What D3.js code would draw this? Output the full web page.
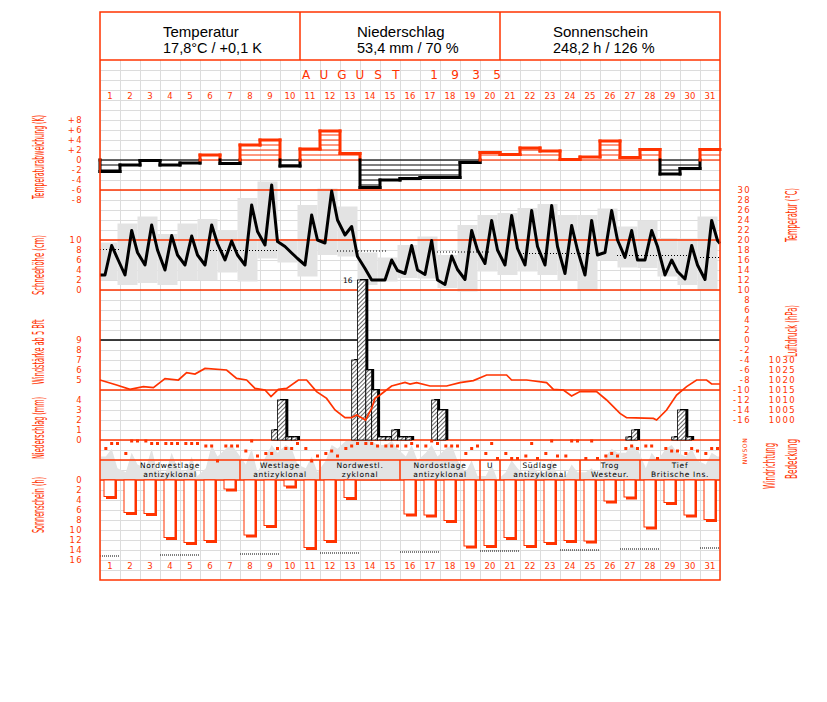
<!DOCTYPE html>
<html>
<head>
<meta charset="utf-8">
<script src="https://cdn.jsdelivr.net/npm/d3@7"></script>
<style>
body { margin: 0; background: #fff; }
text { font-family: "DejaVu Sans", sans-serif; }
</style>
</head>
<body>
<svg id="chart" width="827" height="702"></svg>
<script>
const RED = "#ff3300";

// ---- data ----
const days = d3.range(1, 32);

// daily mean temperature deviation (K)
const tempDev = [-2.3, -1.0, -0.1, -1.0, -0.6, 1.0, -0.7, 3.0, 4.0, -1.2, 2.2, 5.8, 1.3, -5.5, -4.0,
  -3.7, -3.5, -3.5, -0.5, 1.5, 1.1, 2.4, 1.8, 0.1, 0.6, 3.8, 0.5, 2.1, -2.8, -1.7, 2.1];

// temperature at the terms (°C): morning, 14h, 21h
const tempMorning = [13, 13, 15, 14, 15, 15, 16, 15, 19, 18.7, 15, 19.4, 21, 14.3, 12,
  13.3, 13.1, 11.1, 12.1, 15.3, 15, 15, 15, 13.3, 13, 17.5, 16.5, 16, 13, 12.2, 12.1];
const tempNoon = [18.9, 21.9, 23, 20.9, 20.8, 23, 19.8, 27, 31, 17.4, 25, 29.8, 22.7, 12, 16,
  18.9, 19.9, 16.8, 21.9, 23.9, 24.9, 25.9, 26.9, 22.9, 23.9, 25.9, 21.9, 21.9, 16, 18.9, 23.9];
const tempEvening = [16.3, 17.5, 18, 17, 17, 19.3, 17, 21.7, 19.7, 16.3, 20, 24, 16.7, 12, 13.9,
  14, 12, 14.1, 18, 18, 18.3, 18.7, 18.7, 18, 17, 20, 16, 18.7, 13.7, 15, 19.9];
const tempFirst = 13, tempLast = 19.3;

// daily extremes (grey boxes, °C)
const tempHigh = [19.5, 23.3, 24.7, 21.2, 23.3, 24.2, 22, 28.4, 31.7, 20.2, 27, 30.3, 26.7, 17.5, 16.5,
  19, 20.7, 17, 23, 25, 25.4, 26.4, 27.2, 25, 25, 26.3, 22.7, 23.9, 20.4, 20.3, 24.7];
const tempLow = [12, 11, 11.4, 11, 12, 12, 13.5, 11.7, 16.3, 15.5, 12.7, 17, 16.7, 11, 11.7,
  12.4, 12.3, 10.4, 9.7, 13.7, 13, 13.7, 13, 12, 10, 16, 14.5, 14.4, 12.7, 11, 10];

// normal temperature (dotted), [from day, to day, °C]
const tempNormal = [[0, 1, 18.1], [5.5, 8.85, 17.9], [11.85, 14.35, 17.8], [16.85, 19.5, 17.6],
  [21, 24.5, 17.3], [25.85, 29.35, 16.9], [30, 31, 16.5]];

// precipitation per term interval: [day, from hour, to hour, mm]
const precip = [[9, 14, 21, 1.0], [9, 21, 31, 4.0], [10, 7, 14, 0.3], [10, 14, 21, 0.3],
  [13, 14, 21, 8], [13, 21, 31, 16], [14, 7, 14, 7], [14, 14, 21, 5], [14, 21, 31, 0.3],
  [15, 7, 14, 0.3], [15, 14, 21, 1], [15, 21, 31, 0.3], [16, 7, 14, 0.3],
  [17, 14, 21, 4], [17, 21, 31, 3], [27, 7, 14, 0.3], [27, 14, 21, 1],
  [29, 14, 21, 0.3], [29, 21, 31, 3], [30, 7, 14, 0.3]];

// air pressure (hPa): [time in days, value]
const pressure = [[0, 1020], [0.83, 1017.5], [1.5, 1015.3], [2.17, 1016.7], [2.67, 1016.2], [3.25, 1020.7],
  [3.92, 1020], [4.33, 1023.7], [4.75, 1023], [5.25, 1025.8], [6.33, 1025], [6.83, 1020.8], [7.33, 1020],
  [7.75, 1015.8], [8.25, 1015], [8.55, 1011.7], [8.92, 1015.3], [9.33, 1015.8], [9.92, 1020], [10.33, 1020],
  [10.83, 1014.2], [11.33, 1010.8], [11.75, 1005], [12.25, 1001.2], [12.58, 1001.2], [12.83, 1002.5],
  [13.28, 1000], [13.58, 1005.8], [13.75, 1010.8], [14, 1012.5], [14.58, 1017], [15.25, 1018.8], [15.5, 1018],
  [15.83, 1018.7], [16.5, 1017], [17.33, 1017], [18, 1018.7], [18.67, 1019.7], [19.33, 1022.5], [20.33, 1022.5],
  [20.58, 1020], [21.33, 1020], [22.33, 1018.7], [22.67, 1015.3], [23.17, 1015], [23.58, 1012], [24, 1014.2],
  [24.83, 1014.2], [25.33, 1010], [26, 1003.3], [26.33, 1001.2], [27.67, 1000.8], [27.83, 1000], [28.33, 1005],
  [28.83, 1012.5], [29.33, 1016.7], [29.83, 1020], [30.33, 1020], [30.58, 1018], [31, 1018]];

// wind direction (degrees) at 7h, 14h, 21h
const windDir = [135, 45, 45, 225, 0, 0, 0, 45, 45, 45, 45, 45, 45, 45, 45, 90, 90, 360, 90, 90, 90,
  180, 0, 270, 225, 225, 135, 135, 135, 45, 135, 360, 270, 225, 180, 270, 135, 90, 45, 45, 45, 90,
  90, 90, 90, 90, 45, 90, 90, 0, 45, 90, 90, 90, 225, 135, 90, 225, 45, 315, 225, 315, 315,
  270, 45, 315, 225, 0, 270, 270, 0, 0, 315, 0, 315, 270, 225, 270, 135, 90, 135, 90, 90, 315,
  135, 180, 180, 225, 135, 180, 225, 135, 135];

// cloud cover (tenths) at 7h, 14h, 21h
const cloud = [6, 8, 3, 2, 7, 4, 3, 8, 2, 2, 7, 3, 2, 6, 1, 3, 9, 6, 8, 9, 7, 4, 8, 2, 6, 9, 7,
  9, 8, 4, 3, 6, 2, 5, 9, 8, 10, 10, 10, 10, 10, 9, 9, 10, 8, 6, 9, 5, 7, 9, 6, 8, 9, 5, 2, 5, 1,
  1, 4, 0, 2, 5, 3, 1, 4, 2, 2, 5, 1, 1, 4, 2, 2, 3, 1, 6, 8, 7, 7, 9, 8, 3, 7, 5, 8, 9, 7, 6, 8, 5,
  4, 7, 6];

// Großwetterlagen
const weatherFrom = [1, 8, 12, 16, 20, 21, 25, 28];
const weatherTo = [7, 11, 15, 19, 20, 24, 27, 31];
const weatherLine1 = ["Nordwestlage", "Westlage", "Nordwestl.", "Nordostlage", "U", "Südlage", "Trog", "Tief"];
const weatherLine2 = ["antizyklonal", "antizyklonal", "zyklonal", "antizyklonal", "", "antizyklonal", "Westeur.", "Britische Ins."];

// sunshine duration (h)
const sunshine = [3.3, 6.5, 6.7, 11.5, 12.5, 12.1, 1.8, 11, 9.1, 1.2, 13.5, 12.1, 3.5, 0, 0,
  6.8, 7, 8.1, 13.2, 13.1, 11.5, 13.1, 12.5, 12.1, 12.2, 4.2, 3.4, 9.4, 4.5, 7, 7.9];
const sunMaxDays = [1, 4, 5, 8, 9, 12, 13, 16, 17, 20, 21, 24, 25, 27, 28, 31];
const sunMaxHours = [15.2, 15.0, 15.0, 14.8, 14.8, 14.6, 14.6, 14.4, 14.4, 14.2, 14.2, 14.0, 14.0, 13.8, 13.8, 13.6];

const devTicks = [8, 6, 4, 2, 0, -2, -4, -6, -8];
const snowTicks = [0, 2, 4, 6, 8, 10];
const windTicks = [5, 6, 7, 8, 9];
const precipTicks = [0, 1, 2, 3, 4];
const sunTicks = [0, 2, 4, 6, 8, 10, 12, 14, 16];
const tempTicks = d3.range(-16, 31, 2);
const pressTicks = [1000, 1005, 1010, 1015, 1020, 1025, 1030];

// ---- scales ----
const x = d3.scaleLinear().domain([0, 31]).range([100, 720]);
const tm = (d, h) => d - 1 + h / 24;
const yDev = d3.scaleLinear().domain([-8, 8]).range([200, 120]);
const yTemp = d3.scaleLinear().domain([-16, 30]).range([420, 190]);
const ySnow = d3.scaleLinear().domain([0, 10]).range([290, 240]);
const yWind = d3.scaleLinear().domain([5, 9]).range([380, 340]);
const yPrec = d3.scaleLinear().domain([0, 16]).range([440, 280]);
const yPress = d3.scaleLinear().domain([1000, 1030]).range([420, 360]);
const yDir = d3.scaleLinear().domain([0, 360]).range([441, 461]);
const yCloud = d3.scaleLinear().domain([0, 10]).range([480, 441]);
const ySun = d3.scaleLinear().domain([0, 16]).range([480, 560]);

const svg = d3.select("#chart");
svg.append("rect").attr("width", 827).attr("height", 702).attr("fill", "#fff");

const defs = svg.append("defs");
const pat = defs.append("pattern").attr("id", "hatch").attr("patternUnits", "userSpaceOnUse")
  .attr("width", 3).attr("height", 3).attr("patternTransform", "rotate(45)");
pat.append("rect").attr("width", 3).attr("height", 3).attr("fill", "#fff");
pat.append("line").attr("x1", 0).attr("y1", 0).attr("x2", 0).attr("y2", 3)
  .attr("stroke", "#000").attr("stroke-width", 1.2);

// grid
const grid = svg.append("g").attr("stroke", "#dcdcdc").attr("stroke-width", 1).attr("shape-rendering", "crispEdges");
grid.selectAll("line.v").data(d3.range(0, 32)).join("line").attr("class", "v")
  .attr("x1", d => x(d)).attr("x2", d => x(d)).attr("y1", 60).attr("y2", 580);
grid.selectAll("line.h").data(d3.range(70, 580, 10)).join("line").attr("class", "h")
  .attr("x1", 100).attr("x2", 720).attr("y1", d => d).attr("y2", d => d);

// grey daily extreme boxes (climatological day 21h - 21h)
svg.append("g").attr("fill", "#e3e3e3").selectAll("rect").data(days).join("rect")
  .attr("x", d => Math.max(x(0), x(tm(d, -3))))
  .attr("width", d => x(tm(d, 21)) - Math.max(x(0), x(tm(d, -3))))
  .attr("y", (d, i) => yTemp(tempHigh[i]))
  .attr("height", (d, i) => yTemp(tempLow[i]) - yTemp(tempHigh[i]));

// cloud cover area
const obsHours = [7, 14, 21];
const cloudPts = [[0, cloud[0]]];
days.forEach((d, i) => obsHours.forEach((h, j) => cloudPts.push([tm(d, h), cloud[i * 3 + j]])));
cloudPts.push([31, cloud[cloud.length - 1]]);
svg.append("path").datum(cloudPts).attr("fill", "#e3e3e3")
  .attr("d", d3.area().x(d => x(d[0])).y0(yCloud(0)).y1(d => yCloud(d[1])));

// reference lines
const refLines = [[yTemp(30), RED], [yTemp(20), RED], [yTemp(10), RED],
  [yTemp(0), "#000"], [yTemp(-10), RED], [yPrec(0), RED], [460, RED], [480, RED]];
svg.append("g").selectAll("line").data(refLines).join("line")
  .attr("x1", 100).attr("x2", 720).attr("y1", d => d[0]).attr("y2", d => d[0])
  .attr("stroke", d => d[1]).attr("stroke-width", 1.5);

// temperature deviation
const devG = svg.append("g");
tempDev.forEach((v, i) => {
  const c = v >= 0 ? RED : "#000";
  const s = Math.sign(v);
  devG.append("line").attr("x1", x(i)).attr("x2", x(i + 1)).attr("y1", yDev(0)).attr("y2", yDev(0))
    .attr("stroke", c).attr("stroke-width", 1.2);
  for (let k = 1; k <= Math.floor(Math.abs(v)); k++) {
    devG.append("line").attr("x1", x(i)).attr("x2", x(i + 1)).attr("y1", yDev(s * k)).attr("y2", yDev(s * k))
      .attr("stroke", c).attr("stroke-width", 1);
  }
});
const devSeg = [];
tempDev.forEach((v, i) => {
  const c = v >= 0 ? RED : "#000";
  const p = i > 0 ? tempDev[i - 1] : 0;
  if ((p >= 0) === (v >= 0)) devSeg.push([x(i), yDev(p), x(i), yDev(v), c]);
  else {
    devSeg.push([x(i), yDev(p), x(i), yDev(0), p >= 0 ? RED : "#000"]);
    devSeg.push([x(i), yDev(0), x(i), yDev(v), c]);
  }
  devSeg.push([x(i), yDev(v), x(i + 1), yDev(v), c]);
});
devG.selectAll("line.step").data(devSeg).join("line").attr("class", "step")
  .attr("x1", d => d[0]).attr("y1", d => d[1]).attr("x2", d => d[2]).attr("y2", d => d[3])
  .attr("stroke", d => d[4]).attr("stroke-width", 3).attr("stroke-linecap", "square");

// normal temperature, dotted
svg.append("g").selectAll("line").data(tempNormal).join("line")
  .attr("x1", d => x(d[0])).attr("x2", d => x(d[1])).attr("y1", d => yTemp(d[2])).attr("y2", d => yTemp(d[2]))
  .attr("stroke", "#000").attr("stroke-width", 1).attr("stroke-dasharray", "1,2");

// temperature curve
const tempPts = [[0, tempFirst]];
days.forEach((d, i) => {
  tempPts.push([tm(d, 6), tempMorning[i]]);
  tempPts.push([tm(d, 14), tempNoon[i]]);
  tempPts.push([tm(d, 21), tempEvening[i]]);
});
tempPts.push([31, tempLast]);
svg.append("path").datum(tempPts).attr("fill", "none").attr("stroke", "#000").attr("stroke-width", 3)
  .attr("stroke-linejoin", "round")
  .attr("d", d3.line().x(d => x(d[0])).y(d => yTemp(d[1])));

// precipitation bars
const precG = svg.append("g");
precG.selectAll("rect.shadow").data(precip).join("rect").attr("class", "shadow")
  .attr("x", d => x(tm(d[0], d[1])) + 2.5).attr("width", d => x(tm(d[0], d[2])) - x(tm(d[0], d[1])))
  .attr("y", d => yPrec(d[3]) - 1).attr("height", d => yPrec(0) - yPrec(d[3]) + 1)
  .attr("fill", "#000");
precG.selectAll("rect.bar").data(precip).join("rect").attr("class", "bar")
  .attr("x", d => x(tm(d[0], d[1]))).attr("width", d => x(tm(d[0], d[2])) - x(tm(d[0], d[1])))
  .attr("y", d => yPrec(d[3])).attr("height", d => yPrec(0) - yPrec(d[3]))
  .attr("fill", "url(#hatch)").attr("stroke", "#000").attr("stroke-width", 0.8);
const maxP = precip.reduce((a, b) => (b[3] > a[3] ? b : a));
precG.append("text").attr("x", x(tm(maxP[0], maxP[1])) - 5).attr("y", yPrec(maxP[3]) + 3)
  .attr("text-anchor", "end").attr("font-size", 7.5).text(maxP[3]);

// pressure
svg.append("path").datum(pressure).attr("fill", "none").attr("stroke", RED).attr("stroke-width", 1.7)
  .attr("d", d3.line().x(d => x(d[0])).y(d => yPress(d[1])));

// wind direction squares
const windPts = [];
days.forEach((d, i) => obsHours.forEach((h, j) => windPts.push([tm(d, h), windDir[i * 3 + j]])));
svg.append("g").attr("fill", RED).selectAll("rect").data(windPts).join("rect")
  .attr("x", d => x(d[0]) - 1.5).attr("y", d => yDir(d[1]) - 1.5).attr("width", 3).attr("height", 3);

// weather types
const wG = svg.append("g");
wG.selectAll("line").data(weatherTo.slice(0, -1)).join("line")
  .attr("x1", d => x(d)).attr("x2", d => x(d)).attr("y1", 460).attr("y2", 480)
  .attr("stroke", RED).attr("stroke-width", 1.5);
wG.selectAll("text.l1").data(weatherLine1).join("text").attr("class", "l1")
  .attr("x", (d, i) => (x(weatherFrom[i] - 1) + x(weatherTo[i])) / 2).attr("y", 468)
  .attr("text-anchor", "middle").attr("font-size", 7.5).attr("letter-spacing", 0.7).text(d => d);
wG.selectAll("text.l2").data(weatherLine2).join("text").attr("class", "l2")
  .attr("x", (d, i) => (x(weatherFrom[i] - 1) + x(weatherTo[i])) / 2).attr("y", 477)
  .attr("text-anchor", "middle").attr("font-size", 7.5).attr("letter-spacing", 0.7).text(d => d);

// sunshine bars
const sunG = svg.append("g");
const sunDays = days.filter((d, i) => sunshine[i] > 0);
sunG.selectAll("rect.shadow").data(sunDays).join("rect").attr("class", "shadow")
  .attr("x", d => x(d - 1) + 6).attr("width", 11)
  .attr("y", ySun(0)).attr("height", d => ySun(sunshine[d - 1]) - ySun(0) + 2.5).attr("fill", RED);
sunG.selectAll("rect.bar").data(sunDays).join("rect").attr("class", "bar")
  .attr("x", d => x(d - 1) + 4).attr("width", 11)
  .attr("y", ySun(0)).attr("height", d => ySun(sunshine[d - 1]) - ySun(0))
  .attr("fill", "#fff").attr("stroke", RED).attr("stroke-width", 1);
sunG.selectAll("line").data(sunMaxDays).join("line")
  .attr("x1", d => x(d - 1)).attr("x2", d => x(d))
  .attr("y1", (d, i) => ySun(sunMaxHours[i])).attr("y2", (d, i) => ySun(sunMaxHours[i]))
  .attr("stroke", "#000").attr("stroke-width", 1).attr("stroke-dasharray", "1,1");

// day labels
[99, 569].forEach(yy => {
  svg.append("g").selectAll("text").data(days).join("text")
    .attr("x", d => x(d - 0.5)).attr("y", yy).attr("text-anchor", "middle")
    .attr("font-size", 8.5).attr("fill", RED).text(d => d);
});

// month title
const monthChars = "AUGUST".split("");
const yearChars = "1935".split("");
svg.append("g").selectAll("text").data(monthChars).join("text")
  .attr("x", (d, i) => 306 + i * 18).attr("y", 79).attr("text-anchor", "middle")
  .attr("font-size", 12).attr("fill", RED).text(d => d);
svg.append("g").selectAll("text").data(yearChars).join("text")
  .attr("x", (d, i) => 434 + i * 21).attr("y", 79).attr("text-anchor", "middle")
  .attr("font-size", 12).attr("fill", RED).text(d => d);

// header
const headTitles = ["Temperatur", "Niederschlag", "Sonnenschein"];
const headValues = ["17,8°C / +0,1 K", "53,4 mm / 70 %", "248,2 h / 126 %"];
const headX = [163, 357, 553];
svg.append("g").selectAll("text").data(headTitles).join("text")
  .attr("x", (d, i) => headX[i]).attr("y", 37).attr("font-size", 15)
  .style("font-family", "'Liberation Sans', Arial, sans-serif").text(d => d);
svg.append("g").selectAll("text").data(headValues).join("text")
  .attr("x", (d, i) => headX[i]).attr("y", 53).attr("font-size", 14.5)
  .style("font-family", "'Liberation Sans', Arial, sans-serif").text(d => d);
svg.append("g").selectAll("line").data([300, 500]).join("line")
  .attr("x1", d => d).attr("x2", d => d).attr("y1", 12).attr("y2", 60)
  .attr("stroke", RED).attr("stroke-width", 1.5);
svg.append("line").attr("x1", 100).attr("x2", 720).attr("y1", 60).attr("y2", 60)
  .attr("stroke", RED).attr("stroke-width", 1.5);

// axes
function tickAxis(scale, values, xPos, fmt) {
  const g = svg.append("g").attr("transform", `translate(${xPos},0)`)
    .call(d3.axisLeft(scale).tickValues(values).tickSize(0).tickPadding(0).tickFormat(fmt || (d => String(d))));
  g.select(".domain").remove();
  g.selectAll("text").attr("fill", RED).attr("font-size", 8.5).attr("letter-spacing", 1.4)
    .style("font-family", "'DejaVu Sans', sans-serif");
  return g;
}
tickAxis(yDev, devTicks, 83, d => (d > 0 ? "+" + d : String(d)));
tickAxis(ySnow, snowTicks, 83);
tickAxis(yWind, windTicks, 83);
tickAxis(yPrec, precipTicks, 83);
tickAxis(ySun, sunTicks, 83);
tickAxis(yTemp, tempTicks, 751);
tickAxis(yPress, pressTicks, 796);

// wind direction letters
svg.append("text").attr("transform", `translate(747,${yDir(180)}) rotate(-90)`)
  .attr("text-anchor", "middle").attr("font-size", 6).attr("fill", RED).attr("letter-spacing", 0.6)
  .text("NWSON");

// rotated axis titles
const sideLabels = [
  ["Temperaturabweichung (K)", 44, 157, 84],
  ["Schneehöhe (cm)", 44, 265, 60],
  ["Windstärke ab 5 Bft", 44, 352, 65],
  ["Niederschlag (mm)", 44, 428, 62],
  ["Sonnenschein (h)", 44, 505, 56],
  ["Temperatur (°C)", 797, 215, 54],
  ["Luftdruck (hPa)", 797, 331, 52],
  ["Windrichtung", 775, 466, 46],
  ["Bedeckung", 797, 459, 40]
];
svg.append("g").selectAll("text").data(sideLabels).join("text")
  .attr("transform", d => `translate(${d[1]},${d[2]}) rotate(-90)`)
  .attr("text-anchor", "middle").attr("font-size", 15).attr("fill", RED)
  .attr("textLength", d => d[3]).attr("lengthAdjust", "spacingAndGlyphs")
  .style("font-family", "'Liberation Sans Narrow', 'DejaVu Sans Condensed', sans-serif")
  .text(d => d[0]);

// frame
svg.append("rect").attr("x", 100).attr("y", 12).attr("width", 620).attr("height", 568)
  .attr("fill", "none").attr("stroke", RED).attr("stroke-width", 1.5);
</script>
</body>
</html>
